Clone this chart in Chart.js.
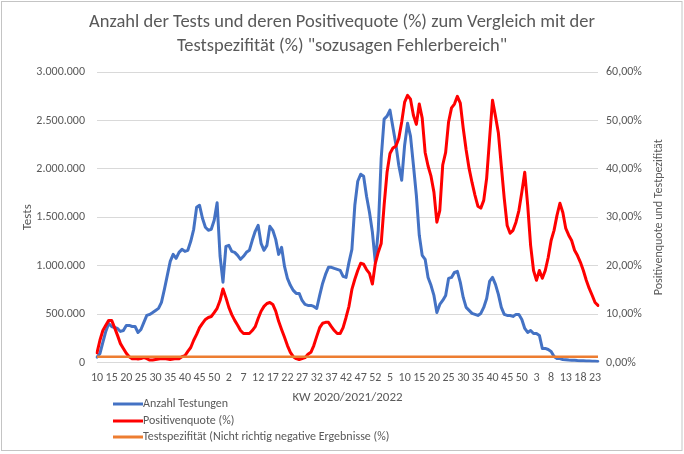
<!DOCTYPE html>
<html>
<head>
<meta charset="utf-8">
<script src="https://cdn.jsdelivr.net/npm/chart.js@4/dist/chart.umd.min.js"></script>
<style>
  html, body { margin: 0; padding: 0; background: #ffffff; }
  #wrap { width: 684px; height: 454px; position: relative; }
</style>
</head>
<body>
<div id="wrap"><canvas id="c" width="684" height="454"></canvas></div>
<script>
// ---- Chart text ----
const titleLines = ['Anzahl der Tests und deren Positivequote (%) zum Vergleich mit der', 'Testspezifität (%) "sozusagen Fehlerbereich"'];
const xAxisTitle = 'KW 2020/2021/2022';
const leftAxisTitle = 'Tests';
const rightAxisTitle = 'Positivenquote und Testpezifität';
const seriesNames = ['Anzahl Testungen', 'Positivenquote (%)', 'Testspezifität (Nicht richtig negative Ergebnisse (%)'];

// ---- Categories: calendar weeks ----
const weeks2020 = [10,11,12,13,14,15,16,17,18,19,20,21,22,23,24,25,26,27,28,29,30,31,32,33,34,35,36,37,38,39,40,41,42,43,44,45,46,47,48,49,50,51,52,53];
const weeks2021 = [1,2,3,4,5,6,7,8,9,10,11,12,13,14,15,16,17,18,19,20,21,22,23,24,25,26,27,28,29,30,31,32,33,34,35,36,37,38,39,40,41,42,43,44,45,46,47,48,49,50,51,52];
const weeks2022 = [1,2,3,4,5,6,7,8,9,10,11,12,13,14,15,16,17,18,19,20,21,22,23,24,25,26,27,28,29,30,31,32,33,34,35,36,37,38,39,40,41,42,43,44,45,46,47,48,49,50,51,52];
const weeks2023 = [1,2,3,4,5,6,7,8,9,10,11,12,13,14,15,16,17,18,19,20,21,22,23,24];
const weeks = weeks2020.concat(weeks2021, weeks2022, weeks2023);

// ---- Series: number of tests per week ----
const tests = [
  55000, 93000, 207000, 321000, 403000, 372000, 362000, 352000, 321000, 331000,
  383000, 383000, 372000, 372000, 310000, 341000, 414000, 486000, 497000, 517000,
  538000, 559000, 621000, 755000, 900000, 1045000, 1117000, 1076000, 1138000, 1169000,
  1148000, 1159000, 1252000, 1376000, 1603000, 1624000, 1490000, 1397000, 1366000, 1376000,
  1469000, 1650000, 1100000, 830000,
  1200000, 1210000, 1148000, 1138000, 1107000, 1066000,
  1097000, 1138000, 1159000, 1262000, 1355000, 1417000, 1231000, 1159000, 1210000, 1407000,
  1366000, 1272000, 1117000, 1190000, 993000, 869000, 797000, 745000, 714000, 714000,
  641000, 600000, 590000, 590000, 579000, 559000, 693000, 817000, 910000, 983000,
  983000, 972000, 962000, 952000, 890000, 879000, 1034000, 1169000, 1624000, 1872000,
  1945000, 1924000, 1717000, 1552000, 1345000, 1034000, 1366000, 2110000, 2514000, 2545000,
  2607000, 2431000, 2255000, 2038000, 1883000, 2245000, 2472000, 2338000, 2038000, 1728000,
  1314000, 1107000, 1066000, 879000, 797000, 693000, 517000, 600000, 641000, 693000,
  869000, 879000, 931000, 941000, 828000, 672000, 569000, 538000, 507000, 497000,
  486000, 507000, 569000, 662000, 838000, 879000, 807000, 703000, 569000, 497000,
  486000, 486000, 476000, 497000, 497000, 445000, 352000, 310000, 331000, 300000,
  300000, 280000, 145000, 145000, 134000, 114000, 62000, 41000, 41000, 31000,
  28000, 25000, 24000, 22000, 20000, 19000, 18000, 16000, 15000, 13000, 12000, 11000
];

// ---- Series: positivity rate (%) ----
const positivity = [
  2.0, 4.6, 6.6, 7.7, 8.7, 8.7, 7.2, 5.6, 3.9, 2.9,
  1.9, 1.2, 0.8, 0.8, 0.7, 0.8, 1.0, 0.8, 0.5, 0.5,
  0.6, 0.7, 0.8, 0.8, 0.7, 0.6, 0.7, 0.8, 0.8, 1.2,
  1.4, 2.3, 3.1, 4.6, 5.8, 7.2, 8.1, 8.9, 9.3, 9.5,
  10.3, 11.2, 12.8, 15.2,
  13.4, 11.4, 9.9, 8.7, 7.7, 6.6,
  6.0, 6.0, 6.0, 6.6, 7.4, 9.1, 10.6, 11.6, 12.2, 12.4,
  12.0, 10.6, 8.5, 6.8, 5.2, 3.5, 2.1, 1.2, 0.8, 0.6,
  0.8, 1.0, 1.7, 2.1, 3.5, 5.4, 7.2, 8.1, 8.3, 8.3,
  7.4, 6.6, 6.0, 6.0, 7.2, 9.3, 11.6, 15.1, 17.2, 19.0,
  20.5, 20.3, 19.2, 18.4, 16.2, 20.5, 22.8, 24.6, 32.5, 39.3,
  43.2, 44.3, 44.7, 46.3, 49.7, 53.8, 55.2, 54.4, 51.1, 49.2,
  53.4, 50.5, 43.4, 40.6, 38.5, 35.2, 29.0, 31.4, 40.8, 43.4,
  49.7, 52.6, 53.4, 55.0, 53.6, 48.4, 43.9, 40.1, 37.2, 34.6,
  32.3, 31.9, 33.5, 38.1, 46.3, 54.2, 50.9, 47.4, 40.6, 33.9,
  28.3, 26.7, 27.3, 29.0, 31.4, 35.2, 39.3, 32.5, 24.2, 19.0,
  17.0, 19.0, 17.4, 19.0, 21.7, 25.2, 27.3, 30.4, 32.9, 31.0,
  27.7, 26.3, 25.2, 23.2, 22.1, 20.7, 19.0, 17.0, 15.3, 13.9, 12.4, 11.8
];

// ---- Series: test specificity (%) - constant level ----
const specificityLevel = 1.2;
const specificity = weeks.map(() => specificityLevel);

// ---- Axis ticks ----
const leftTicksMax = 3000000, leftTicksStep = 500000;
const rightTicksMax = 60, rightTicksStep = 10;
const labelEvery = 5;

const textColor = '#595959';
const fontFamily = "Carlito, 'Liberation Sans', Arial, sans-serif";

function fmtThousands(v) {
  return String(Math.round(v)).replace(/\B(?=(\d{3})+(?!\d))/g, '.');
}

const decorPlugin = {
  id: 'decor',
  beforeDraw(chart) {
    const c = chart.ctx;
    c.save();
    c.fillStyle = '#ffffff';
    c.fillRect(0, 0, chart.width, chart.height);
    c.restore();
  },
  afterDraw(chart) {
    const c = chart.ctx;
    c.save();
    // frame
    c.strokeStyle = '#c4c4c4';
    c.lineWidth = 1;
    c.strokeRect(1.5, 1.5, 680.5, 449);
    // right axis title (reads bottom-to-top)
    c.fillStyle = textColor;
    c.font = '12px ' + fontFamily;
    c.textAlign = 'center';
    c.textBaseline = 'middle';
    c.translate(659, (chart.chartArea.top + chart.chartArea.bottom) / 2);
    c.rotate(-Math.PI / 2);
    c.fillText(rightAxisTitle, 0, 0);
    c.restore();
    // legend
    c.save();
    const ys = [404, 421, 437];
    chart.data.datasets.forEach((ds, i) => {
      c.strokeStyle = ds.borderColor;
      c.lineWidth = 3;
      c.beginPath();
      c.moveTo(113, ys[i]);
      c.lineTo(143, ys[i]);
      c.stroke();
      c.fillStyle = textColor;
      c.font = '12px ' + fontFamily;
      c.textAlign = 'left';
      c.textBaseline = 'middle';
      c.fillText(ds.label, 143, ys[i]);
    });
    c.restore();
  }
};

new Chart(document.getElementById('c'), {
  type: 'line',
  data: {
    labels: weeks,
    datasets: [
      { label: seriesNames[0], data: tests, yAxisID: 'y', borderColor: '#4472C4', backgroundColor: '#4472C4', borderWidth: 3, pointRadius: 0, tension: 0, order: 3, borderJoinStyle: 'round', borderCapStyle: 'round' },
      { label: seriesNames[1], data: positivity, yAxisID: 'y1', borderColor: '#FF0000', backgroundColor: '#FF0000', borderWidth: 3, pointRadius: 0, tension: 0, order: 2, borderJoinStyle: 'round', borderCapStyle: 'round' },
      { label: seriesNames[2], data: specificity, yAxisID: 'y1', borderColor: '#ED7D31', backgroundColor: '#ED7D31', borderWidth: 2.5, pointRadius: 0, tension: 0, order: 1 }
    ]
  },
  options: {
    responsive: false,
    animation: false,
    devicePixelRatio: 1,
    layout: { padding: 0 },
    plugins: {
      legend: { display: false },
      tooltip: { enabled: false },
      title: {
        display: true,
        text: titleLines,
        color: textColor,
        font: { family: fontFamily, size: 18.5, weight: 'normal', lineHeight: 1.3 },
        padding: { top: 10, bottom: 14 }
      }
    },
    scales: {
      x: {
        type: 'category',
        offset: false,
        grid: { display: false, drawTicks: false },
        border: { display: false },
        ticks: {
          autoSkip: false, maxRotation: 0, minRotation: 0, padding: 8,
          color: textColor, font: { family: fontFamily, size: 12 },
          callback: function (val, idx) { return idx % labelEvery === 0 ? this.getLabelForValue(val) : ''; }
        },
        title: { display: true, text: xAxisTitle, color: textColor, font: { family: fontFamily, size: 13 }, padding: { top: 4, bottom: 48 } },
        afterFit(scale) { scale.height = 91.5; }
      },
      y: {
        position: 'left',
        min: 0, max: leftTicksMax,
        grid: { color: '#d9d9d9', lineWidth: 1, drawTicks: false },
        border: { display: false },
        ticks: { stepSize: leftTicksStep, padding: 12, color: textColor, font: { family: fontFamily, size: 12 }, callback: v => fmtThousands(v) },
        title: { display: true, text: leftAxisTitle, color: textColor, font: { family: fontFamily, size: 13 }, padding: { top: 20, bottom: 0 } },
        afterFit(scale) { scale.width = 97; }
      },
      y1: {
        position: 'right',
        min: 0, max: rightTicksMax,
        grid: { display: false, drawTicks: false },
        border: { display: false },
        ticks: { stepSize: rightTicksStep, padding: 8, color: textColor, font: { family: fontFamily, size: 12 }, callback: v => v.toFixed(2).replace('.', ',') + '%' },
        afterFit(scale) { scale.width = 86; }
      }
    }
  },
  plugins: [decorPlugin]
});
</script>
</body>
</html>
